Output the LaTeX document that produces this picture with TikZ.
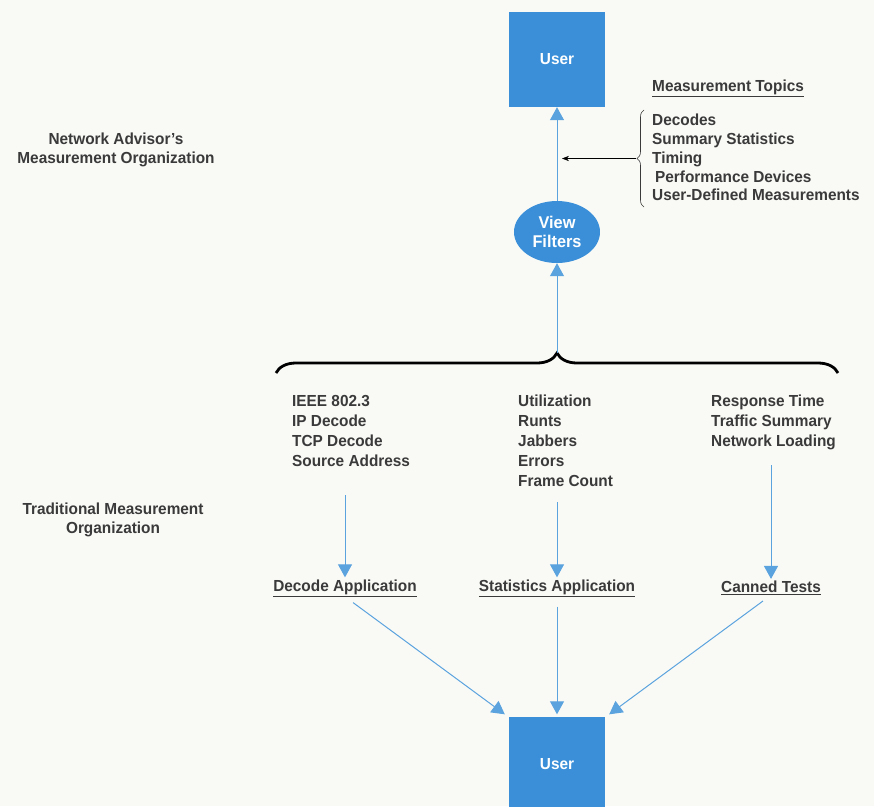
\documentclass[tikz,border=0pt]{standalone}
\usepackage{fontspec}
\setmainfont{Liberation Sans}[FakeStretch=0.96]
\usetikzlibrary{arrows.meta,calc,decorations.pathreplacing,shapes.geometric}
\definecolor{hpblue}{HTML}{3A8FD8}
\definecolor{flowblue}{HTML}{5BA3DE}
\definecolor{inkgrey}{HTML}{3A3A3A}
\definecolor{paper}{HTML}{F9FAF6}
\tikzset{
	userbox/.style={fill=hpblue, minimum width=96pt, minimum height=95pt, text=white, font=\bfseries\fontsize{16}{19}\selectfont},
	filterbubble/.style={ellipse, fill=hpblue, minimum width=86pt, minimum height=62pt, inner sep=0pt, text=white, align=center, font=\bfseries\fontsize{17}{19}\selectfont},
	txt/.style={text=inkgrey, inner sep=0pt, font=\bfseries\fontsize{16}{18.8}\selectfont},
	coltxt/.style={txt, anchor=north west, align=left, font=\bfseries\fontsize{16}{20}\selectfont},
	flow/.style={draw=flowblue, line width=1pt, -{Triangle[width=14pt,length=13pt]}},
}

\begin{document}
\begin{tikzpicture}[x=1pt, y=-1pt]
			%%%%% START %%%%%
			
			\useasboundingbox[fill=paper] (0, 0) rectangle (874, 806);
			
			\node[userbox] (usertop) at (557, 59.5) {User};
			\node[filterbubble] (filters) at (557, 232) {View\\Filters};
			
			\node[txt, anchor=south west] (topichead) at (652, 97) {\underline{Measurement Topics}};
			\node[txt, anchor=west, align=left] (topics) at (652, 157.5) {Decodes\\Summary Statistics\\Timing\\\hspace{3pt}Performance Devices\\User-Defined Measurements};
			\draw[decorate, decoration={brace, amplitude=7pt}, line width=0.6pt, inkgrey] (644, 207) -- (644, 110);
			\coordinate (topicstip) at (636, 158.5);
			\draw[line width=0.6pt, -{Stealth[length=7pt]}] (topicstip) -- ($(topicstip -| usertop)+(5, 0)$);
			
			\node[txt, align=center] (naorg) at (116, 150) {Network Advisor's\\Measurement Organization};
			\node[txt, align=center] (tradorg) at (113, 519.5) {Traditional Measurement\\Organization};
			
			\draw[decorate, decoration={brace, amplitude=20pt}, line width=2.8pt] (276, 373) -- (838, 373);
			\coordinate (bigtip) at (557, 353);
			\draw[flow] (bigtip) -- (filters);
			\draw[flow] (filters) -- (usertop);
			
			\node[coltxt] (declist) at (292, 395) {IEEE 802.3\\IP Decode\\TCP Decode\\Source Address};
			\node[coltxt] (statlist) at (518, 395) {Utilization\\Runts\\Jabbers\\Errors\\Frame Count};
			\node[coltxt] (testlist) at (711, 395) {Response Time\\Traffic Summary\\Network Loading};
			
			\node[txt] (decapp) at (345, 588) {\underline{Decode Application}};
			\node[txt] (statapp) at (557, 588) {\underline{Statistics Application}};
			\node[txt] (canned) at (771, 588) {\underline{Canned Tests}};
			
			\coordinate (decstart) at (345, 495);
			\coordinate (statstart) at (557, 502);
			\coordinate (teststart) at (771, 465);
			\draw[flow, shorten >=2pt] (decstart) -- (decapp.north);
			\draw[flow, shorten >=2pt] (statstart) -- (statapp.north);
			\draw[flow, shorten >=2pt] (teststart) -- (canned.north);
			
			\node[userbox] (userbot) at (557, 764) {User};
			\draw[flow, shorten <=10pt] (decapp.south) -- ($(userbot.north west)+(-4, -2)$);
			\draw[flow, shorten <=10pt, shorten >=2pt] (statapp.south) -- (userbot.north);
			\draw[flow, shorten <=10pt] (canned.south) -- ($(userbot.north east)+(4, -2)$);
			
			%%%%% END %%%%%
\end{tikzpicture}
\end{document}
